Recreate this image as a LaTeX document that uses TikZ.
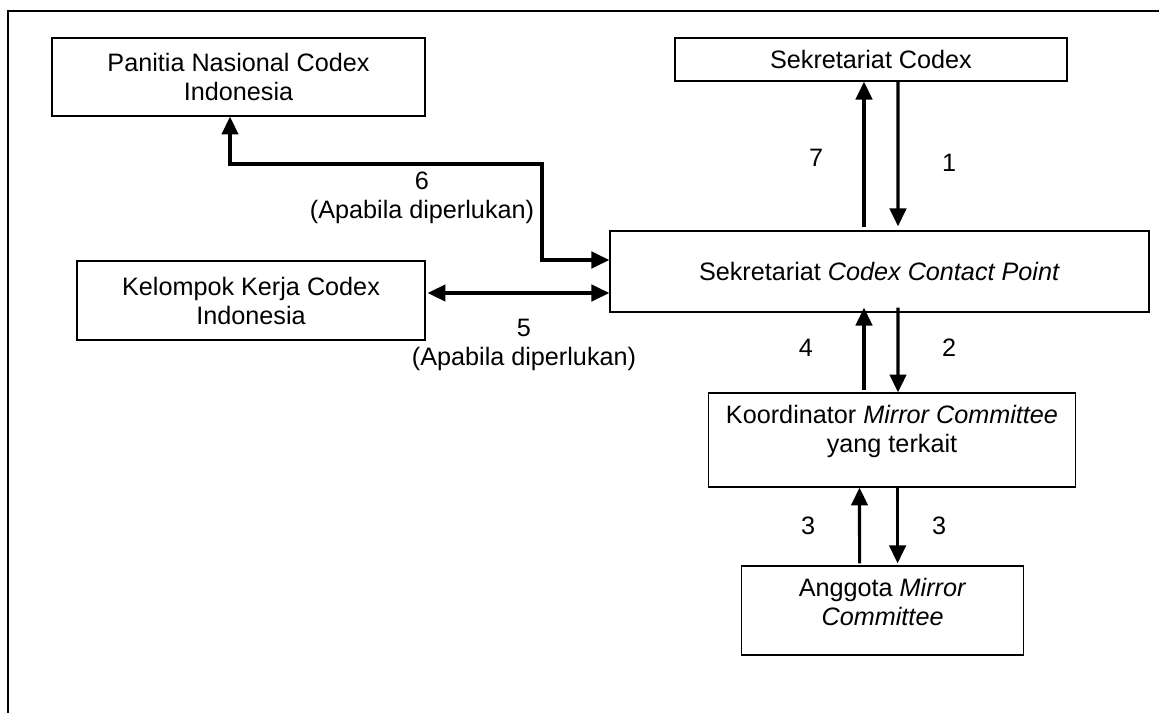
\documentclass[tikz,border=0pt]{standalone}
\usepackage{fontspec}
\setmainfont{Liberation Sans}
\usetikzlibrary{calc,arrows.meta}

\begin{document}
\begin{tikzpicture}[x=0.476pt,y=-0.476pt]
                      \tikzstyle{box}=[draw=black,line width=0.6pt,inner sep=0pt,align=center,font=\fontsize{12}{13.8}\selectfont]
                      \tikzstyle{txt}=[inner sep=0pt,align=center,font=\fontsize{12}{13.8}\selectfont]
                      \tikzstyle{arr}=[line width=1.5pt,-{Triangle[length=8.5pt,width=7.8pt]}]
                      \tikzstyle{arrtwo}=[line width=1.5pt,{Triangle[length=8.5pt,width=7.8pt]}-{Triangle[length=8.5pt,width=7.8pt]}]
                      \useasboundingbox (0,0) rectangle (1159,713);
                      \draw[line width=1pt] (8,713) -- (8,11) -- (1159,11);
                      \node[box,minimum width=177.5pt,minimum height=37.1pt] (panitia) at (238.5,77) {Panitia Nasional Codex\\Indonesia};
                      \node[box,minimum width=186.6pt,minimum height=20.5pt] (sekcodex) at (871,59.5) {Sekretariat Codex};
                      \node[box,minimum width=256.6pt,minimum height=38.6pt] (ccp) at (879.5,271.5) {Sekretariat \textit{Codex Contact Point}};
                      \node[box,minimum width=165.6pt,minimum height=37.6pt] (kelompok) at (251,300.5) {Kelompok Kerja Codex\\Indonesia};
                      \node[box,minimum width=174.7pt,minimum height=44.7pt] (koor) at (892,440) {};
                      \node[txt] (koortxt) at (892,431) {Koordinator \textit{Mirror Committee}\\yang terkait};
                      \node[box,minimum width=134.2pt,minimum height=42.4pt] (anggota) at (882.6,610.5) {};
                      \node[txt] (anggotatxt) at (882.6,602) {Anggota \textit{Mirror}\\\textit{Committee}};
                      % vertical flows
                      \draw[arr] ($(ccp.north)+(-15.5,-3)$) -- ($(sekcodex.south)+(-7,0)$);
                      \draw[arr] ($(sekcodex.south)+(27,0)$) -- ($(ccp.north)+(18.5,-4)$);
                      \draw[arr] ($(koor.north)+(-28,-2)$) -- ($(ccp.south)+(-15.5,-5)$);
                      \draw[arr] ($(ccp.south)+(18.5,-5)$) -- ($(koor.north)+(6,0)$);
                      \draw[arr] ($(anggota.north)+(-23,-2)$) -- ($(koor.south)+(-32.5,0)$);
                      \draw[arr] ($(koor.south)+(5.6,0)$) -- ($(anggota.north)+(15,-2)$);
                      % side flows
                      \coordinate (bend6) at (542,164);
                      \draw[arrtwo] ($(ccp.west)+(0,-11.5)$) -| (bend6) -| ($(panitia.south)+(-8.5,0)$);
                      \coordinate (k5) at ($(kelompok.east)+(2,-7.5)$);
                      \draw[arrtwo] (k5) -- (k5 -| ccp.west);
                      % numbers
                      \node[txt] (lbl7) at (816,158) {7};
                      \node[txt] (lbl1) at (949,163) {1};
                      \node[txt] (lbl4) at (806,348) {4};
                      \node[txt] (lbl2) at (949,348) {2};
                      \node[txt] (lbl3a) at (808,526) {3};
                      \node[txt] (lbl3b) at (939,526) {3};
                      \node[txt] (lbl6) at (422,198) {6\\(Apabila diperlukan)};
                      \node[txt] (lbl5) at (524,344.5) {5\\(Apabila diperlukan)};
\end{tikzpicture}
\end{document}
